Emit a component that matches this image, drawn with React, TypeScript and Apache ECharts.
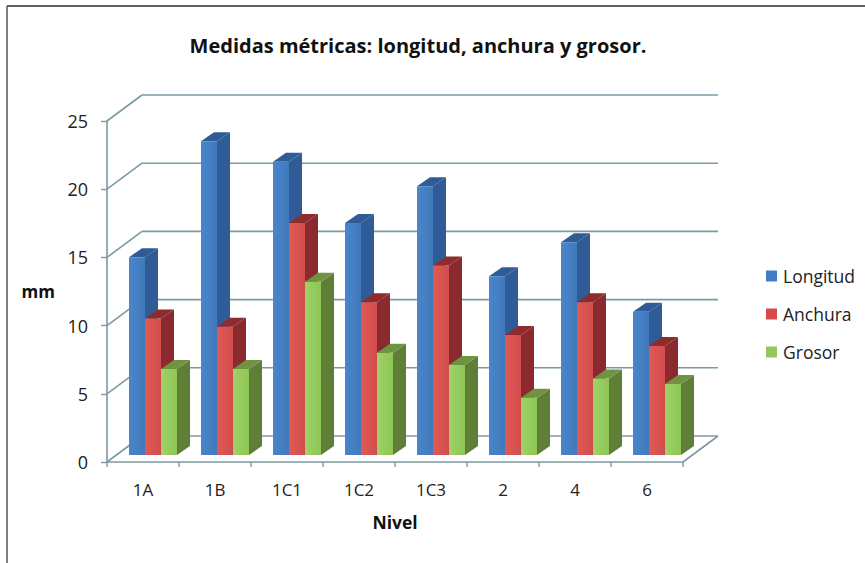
import React, { useEffect, useRef } from "react";
import * as echarts from "echarts";

const categories = ["1A", "1B", "1C1", "1C2", "1C3", "2", "4", "6"];
const longitud = [14.5, 23.0, 21.5, 17.0, 19.7, 13.1, 15.6, 10.5];
const anchura = [10.0, 9.4, 17.0, 11.2, 13.9, 8.8, 11.2, 8.0];
const grosor = [6.3, 6.3, 12.7, 7.5, 6.6, 4.2, 5.6, 5.2];
const yTicks = [0, 5, 10, 15, 20, 25];

const FONT = "'Open Sans', 'Noto Sans', sans-serif";
const LINE = "#7d99a3";
const WALL_DX = 35;
const WALL_DY = -26;
const BAR_W = 16;
const BASE_DX = 10;
const BASE_DY = -7;
const DEPTH_DX = 13;
const DEPTH_DY = -9;

function wallItem(params: any, api: any) {
  const v = api.value(0);
  const cs = params.coordSys;
  const y = api.coord([0, v])[1];
  const x0 = cs.x;
  const x1 = cs.x + cs.width;
  const style = { stroke: LINE, lineWidth: 1.6, fill: "none" };
  const children: any[] = [
    { type: "line", shape: { x1: x0, y1: y, x2: x0 + WALL_DX, y2: y + WALL_DY }, style },
    { type: "line", shape: { x1: x0 + WALL_DX, y1: y + WALL_DY, x2: x1 + WALL_DX, y2: y + WALL_DY }, style },
  ];
  if (v === 0) {
    children.push({ type: "line", shape: { x1, y1: y, x2: x1 + WALL_DX, y2: y + WALL_DY }, style });
    const step = cs.width / categories.length;
    for (let i = 0; i <= categories.length; i++) {
      children.push({
        type: "line",
        shape: { x1: x0 + i * step, y1: y, x2: x0 + i * step, y2: y + 5 },
        style: { stroke: LINE, lineWidth: 1.4, fill: "none" },
      });
    }
  }
  return { type: "group", children };
}

function barItem(slot: number, front: [string, string], side: string, top: string) {
  return (_params: any, api: any) => {
    const p = api.coord([api.value(0), api.value(1)]);
    const b = api.coord([api.value(0), 0]);
    const x = p[0] + BASE_DX + (slot - 1.5) * BAR_W;
    const yTop = p[1] + BASE_DY;
    const yBase = b[1] + BASE_DY;
    const xr = x + BAR_W;
    return {
      type: "group",
      children: [
        {
          type: "polygon",
          shape: { points: [[xr, yTop], [xr + DEPTH_DX, yTop + DEPTH_DY], [xr + DEPTH_DX, yBase + DEPTH_DY], [xr, yBase]] },
          style: { fill: side },
        },
        {
          type: "polygon",
          shape: { points: [[x, yTop], [x + DEPTH_DX, yTop + DEPTH_DY], [xr + DEPTH_DX, yTop + DEPTH_DY], [xr, yTop]] },
          style: { fill: top },
        },
        {
          type: "rect",
          shape: { x, y: yTop, width: BAR_W, height: yBase - yTop },
          style: {
            fill: new echarts.graphic.LinearGradient(0, 0, 1, 0, [
              { offset: 0, color: front[0] },
              { offset: 1, color: front[1] },
            ]),
          },
        },
      ],
    };
  };
}

function barSeries(name: string, values: number[], slot: number, legend: string, front: [string, string], side: string, top: string) {
  return {
    type: "custom",
    name,
    itemStyle: { color: legend },
    coordinateSystem: "cartesian2d",
    clip: false,
    z: 3 + slot,
    data: values.map((v, i) => [i, v]),
    encode: { x: 0, y: 1 },
    renderItem: barItem(slot, front, side, top),
  };
}

export default function App() {
  const ref = useRef<HTMLDivElement>(null);
  useEffect(() => {
    const chart = echarts.init(ref.current!, undefined, { renderer: "svg" });
    chart.setOption({
      animation: false,
      backgroundColor: "#ffffff",
      title: {
        text: "Medidas métricas: longitud, anchura y grosor.",
        left: 413,
        top: 30,
        textAlign: "center",
        textStyle: { fontFamily: FONT, fontSize: 20, fontWeight: "bold", color: "#111111" },
      },
      legend: {
        data: ["Longitud", "Anchura", "Grosor"],
        orient: "vertical",
        left: 766,
        top: 264,
        padding: 0,
        itemWidth: 11,
        itemHeight: 11,
        itemGap: 14,
        icon: "rect",
        textStyle: { fontFamily: FONT, fontSize: 17.5, color: "#222222", padding: [0, 0, 0, 1], lineHeight: 24 },
      },
      grid: { left: 107, top: 121, width: 576, height: 341 },
      xAxis: {
        type: "category",
        data: categories,
        name: "Nivel",
        nameLocation: "middle",
        nameGap: 51,
        nameTextStyle: { fontFamily: FONT, fontSize: 17.5, fontWeight: "bold", color: "#111111" },
        axisLine: { lineStyle: { color: LINE, width: 1.6 } },
        axisTick: { show: false },
        axisLabel: { fontFamily: FONT, fontSize: 17, color: "#222222", margin: 19 },
      },
      yAxis: {
        type: "value",
        min: 0,
        max: 25,
        interval: 5,
        name: "mm",
        nameLocation: "middle",
        nameRotate: 0,
        nameGap: 52,
        nameTextStyle: { fontFamily: FONT, fontSize: 17, fontWeight: "bold", color: "#111111" },
        splitLine: { show: false },
        axisLine: { show: true, lineStyle: { color: LINE, width: 1.6 } },
        axisTick: { show: true, length: 6, lineStyle: { color: LINE, width: 1.4 } },
        axisLabel: { fontFamily: FONT, fontSize: 18, color: "#222222", margin: 19 },
      },
      graphic: [
        { type: "line", shape: { x1: 7, y1: 6, x2: 865, y2: 6 }, style: { stroke: "#2b2b2b", lineWidth: 1.5 } },
        { type: "line", shape: { x1: 7, y1: 6, x2: 7, y2: 563 }, style: { stroke: "#555555", lineWidth: 1.5 } },
      ],
      series: [
        {
          type: "custom",
          name: "walls",
          coordinateSystem: "cartesian2d",
          clip: false,
          z: 1,
          silent: true,
          data: yTicks.map((v) => [v]),
          encode: { y: 0 },
          renderItem: wallItem,
        },
        barSeries("Longitud", longitud, 0, "#3f7cc4", ["#4a86cc", "#4178bb"], "#2f5c96", "#2f5c96"),
        barSeries("Anchura", anchura, 1, "#d8494a", ["#e05a55", "#d24c4d"], "#8a2a2e", "#8f2b2d"),
        barSeries("Grosor", grosor, 2, "#93c95b", ["#a0d268", "#8cc555"], "#5f7f36", "#6f9440"),
      ],
    });
    return () => chart.dispose();
  }, []);
  return <div ref={ref} style={{ position: "fixed", left: 0, top: 0, width: 865, height: 563 }} />;
}
